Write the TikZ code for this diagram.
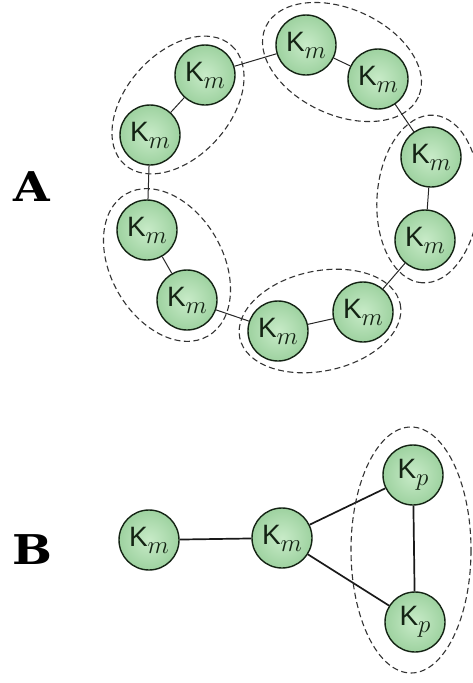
\documentclass[tikz,border=0pt]{standalone}
\usepackage{fontspec}
\newfontfamily\kfont{Liberation Sans}
\newfontfamily\panelfont[UprightFont={* Bold}]{DejaVu Serif}
\definecolor{kgreen}{RGB}{158,210,160}
\definecolor{klight}{RGB}{200,235,200}
\definecolor{kline}{RGB}{20,35,20}
\newcommand{\Ksub}[1]{{\kfont K}\raisebox{-7pt}{\fontsize{26}{26}\selectfont$#1$}}

\begin{document}
\begin{tikzpicture}[
  x=1pt,y=-1pt,
  knode/.style={circle,draw=kline,line width=1.4pt,inner color=klight,outer color=kgreen,
    minimum size=60pt,inner sep=0pt,font=\fontsize{28}{28}\selectfont,text=kline},
  grp/.style={line width=1.1pt,dash pattern=on 6pt off 3.5pt,black!80},
  ring/.style={line width=1pt,black!85},
  link/.style={line width=1.7pt,black!90},
  panel/.style={font=\panelfont\fontsize{41}{41}\selectfont,xscale=1.15}
]
  \useasboundingbox (0,0) rectangle (473,683);

  % panel labels
  \node[panel] (pa) at (32,187) {A};
  \node[panel] (pb) at (32,550) {B};

  % ring
  \node[knode] (a1) at (205,75) {\Ksub{m}};
  \node[knode] (a2) at (150,135) {\Ksub{m}};
  \node[knode] (a3) at (306,45) {\Ksub{m}};
  \node[knode] (a4) at (378,79) {\Ksub{m}};
  \node[knode] (a5) at (431,157) {\Ksub{m}};
  \node[knode] (a6) at (425,240) {\Ksub{m}};
  \node[knode] (a7) at (363,312) {\Ksub{m}};
  \node[knode] (a8) at (278,331) {\Ksub{m}};
  \node[knode] (a9) at (187,300) {\Ksub{m}};
  \node[knode] (a10) at (147,230) {\Ksub{m}};

  \draw[ring] (a1) edge (a2);
  \draw[ring] (a2) edge (a10);
  \draw[ring] (a10) edge (a9);
  \draw[ring] (a9) edge (a8);
  \draw[ring] (a8) edge (a7);
  \draw[ring] (a7) edge (a6);
  \draw[ring] (a6) edge (a5);
  \draw[ring] (a5) edge (a4);
  \draw[ring] (a4) edge (a3);
  \draw[ring] (a3) edge (a1);

  % groups
  \draw[grp,rotate around={48:(178,105)}] (178,105) ellipse [x radius=80,y radius=52];
  \draw[grp,rotate around={-24.6:(342,62)}] (342,62) ellipse [x radius=84,y radius=53];
  \draw[grp,rotate around={-94:(428,199)}] (428,199) ellipse [x radius=84,y radius=51];
  \draw[grp,rotate around={12:(320,321)}] (320,321) ellipse [x radius=82,y radius=50];
  \draw[grp,rotate around={-60:(167,265)}] (167,265) ellipse [x radius=82,y radius=56];

  % star
  \node[knode] (b1) at (149,540) {\Ksub{m}};
  \node[knode] (b2) at (282,538) {\Ksub{m}};
  \node[knode] (b3) at (413,475) {\Ksub{p}};
  \node[knode] (b4) at (415,622) {\Ksub{p}};

  \draw[link] (b1) edge (b2);
  \draw[link] (b2) edge (b3);
  \draw[link] (b2) edge (b4);
  \draw[link] (b3) edge (b4);

  \draw[grp] (411,550) ellipse [x radius=60,y radius=123];
\end{tikzpicture}
\end{document}
